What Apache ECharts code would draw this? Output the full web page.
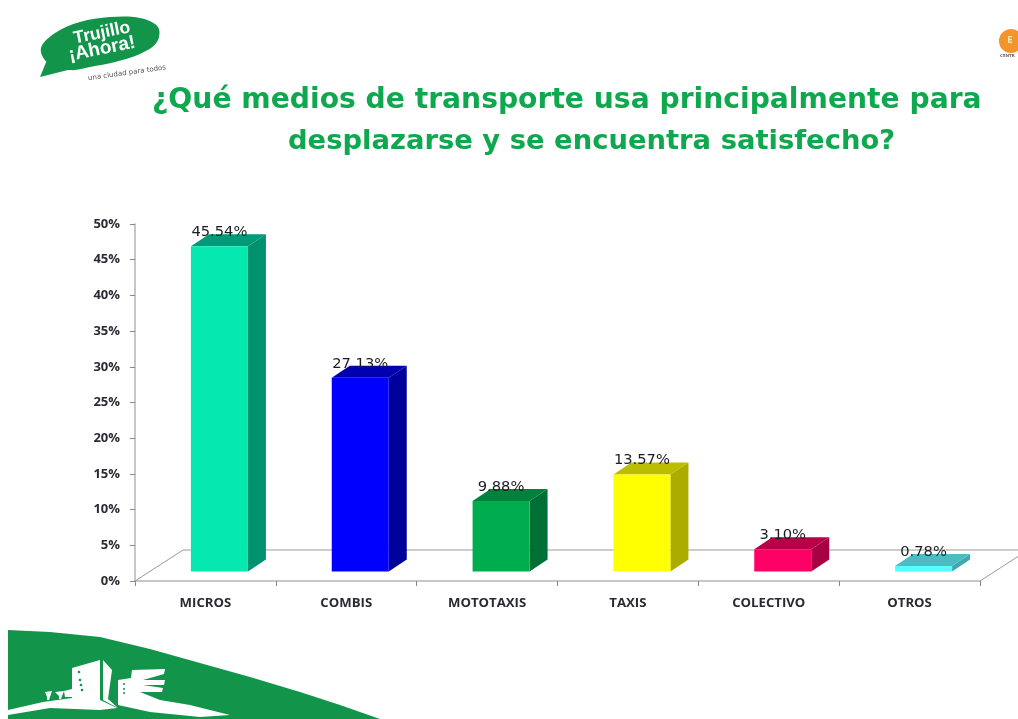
<!DOCTYPE html>
<html><head><meta charset="utf-8">
<style>html,body{margin:0;padding:0;background:#fff}#c{width:1018px;height:719px}</style>
<script src="https://cdn.jsdelivr.net/npm/echarts@6/dist/echarts.min.js"></script>
</head><body><div id="c"></div>
<script>
const categories = ['MICROS','COMBIS','MOTOTAXIS','TAXIS','COLECTIVO','OTROS'];
const values = [45.54,27.13,9.88,13.57,3.10,0.78];
const valueLabels = ['45.54%','27.13%','9.88%','13.57%','3.10%','0.78%'];
const frontColors = ['#05E8B0','#0000FF','#00AD4E','#FFFF00','#FF0066','#55FFFF'];
const sideColors = ['#00926F','#00009B','#006F35','#ABAB00','#A80044','#3FA9B0'];
const topColors = ['#009A78','#0000B0','#00823C','#BDBD00','#B80048','#4CBCC4'];
const titleLines = ['¿Qué medios de transporte usa principalmente para','desplazarse y se encuentra satisfecho?'];
const GREEN = '#0FA84E', LOGO = '#12954A';
const DEPTH_X = 18, DEPTH_Y = 12, SHIFT_X = 14, SHIFT_Y = 9.5, BAR_W = 57;

function renderBar(params, api){
  const i = api.value(0), p = api.coord([i, api.value(1)]), base = api.coord([i, 0]);
  const l = p[0] + SHIFT_X - BAR_W/2, r = l + BAR_W, t = p[1] - SHIFT_Y, b = base[1] - SHIFT_Y;
  const poly = (points, fill) => ({type:'polygon', shape:{points}, style:{fill}});
  return {type:'group', children:[
    poly([[r,b],[r+DEPTH_X,b-DEPTH_Y],[r+DEPTH_X,t-DEPTH_Y],[r,t]], sideColors[i]),
    poly([[l,t],[r,t],[r+DEPTH_X,t-DEPTH_Y],[l+DEPTH_X,t-DEPTH_Y]], topColors[i]),
    poly([[l,t],[r,t],[r,b],[l,b]], frontColors[i]),
    {type:'text', z2:10, style:{text:valueLabels[i], x:(l+r)/2, y:t-14, align:'center', verticalAlign:'middle',
      font:'500 14.7px "DejaVu Sans"', fill:'#1c1c24'}}
  ]};
}
function renderFloor(params, api){
  const half = api.size([1,0])[0]/2;
  const a = api.coord([0,0]), z = api.coord([categories.length-1,0]);
  const x0 = a[0]-half, x1 = z[0]+half, y = a[1], dx = 48, dy = 31;
  return {type:'polyline', shape:{points:[[x0,y],[x0+dx,y-dy],[x1+dx,y-dy],[x1,y]]},
    style:{stroke:'#9a9a9a', lineWidth:1, fill:null}};
}
const chart = echarts.init(document.getElementById('c'), null, {renderer:'canvas'});
chart.setOption({
  animation:false,
  backgroundColor:'#fff',
  title: titleLines.map((t,i)=>({text:t, left:[147,283][i], top:[82,123][i],
    textStyle:{color:GREEN, fontFamily:'DejaVu Sans', fontWeight:'bold', fontSize:[28.2,27.4][i]}})),
  grid:{left:135, right:38, top:224, height:357, containLabel:false},
  xAxis:{type:'category', data:categories, boundaryGap:true,
    axisLine:{lineStyle:{color:'#b5b5b5',width:1.5}},
    axisTick:{show:true,length:5,alignWithLabel:false,lineStyle:{color:'#888'}},
    axisLabel:{margin:16,fontFamily:'Open Sans',fontWeight:'bold',fontSize:13.2,color:'#2a2a35'},
    splitLine:{show:false}},
  yAxis:{type:'value', min:0, max:50, interval:5,
    axisLine:{show:true,lineStyle:{color:'#b5b5b5',width:1.5}},
    axisTick:{show:true,length:5,lineStyle:{color:'#888'}},
    axisLabel:{margin:15,fontFamily:'Open Sans',fontWeight:'bold',fontSize:13,color:'#2a2a35',formatter:'{value}%'},
    splitLine:{show:false}},
  series:[
    {type:'custom', name:'floor', renderItem:renderFloor, data:[[0,0]], silent:true, z:1, clip:false},
    {type:'custom', name:'bars', renderItem:renderBar, z:2, clip:false,
      encode:{x:0,y:1}, data:values.map((v,i)=>[i,v])}
  ],
  graphic:[
    // top-left logo
    {type:'polygon', shape:{smooth:0.35, points:[[47,62],[41,48],[55,33],[80,22],[110,17],[140,18],[158,27],[157,42],[140,54],[115,62],[90,67],[70,70]]}, style:{fill:LOGO}},
    {type:'polygon', shape:{points:[[47,60],[40,77],[72,69]]}, style:{fill:LOGO}},
    {type:'text', rotation:0.2, x:102, y:33, style:{text:'Trujillo', x:0,y:0, align:'center',verticalAlign:'middle', font:'bold 17.5px "Liberation Sans"', fill:'#fff'}},
    {type:'text', rotation:0.2, x:102, y:49, style:{text:'¡Ahora!', x:0,y:0, align:'center',verticalAlign:'middle', font:'bold 19px "Liberation Sans"', fill:'#fff'}},
    {type:'text', rotation:0.14, x:127, y:73, style:{text:'una ciudad para todos', x:0,y:0, align:'center',verticalAlign:'middle', font:'7px "DejaVu Sans"', fill:'#555'}},
    // top-right logo
    {type:'circle', shape:{cx:1011,cy:41,r:12}, style:{fill:'#F0962A'}},
    {type:'text', style:{text:'E', x:1010,y:41, align:'center',verticalAlign:'middle', font:'bold 8px "DejaVu Sans"', fill:'#FBE3B8'}},
    {type:'text', style:{text:'CENTR', x:1000,y:56, verticalAlign:'middle', font:'bold 4px "DejaVu Sans"', fill:'#666'}},
    // bottom banner
    {type:'polygon', shape:{points:[[8,630],[50,632],[100,637],[150,649],[200,663],[250,677],[300,692],[340,705],[380,719],[8,719]]}, style:{fill:LOGO}},
    // hill with left building
    {type:'polygon', shape:{points:[[8,710],[43,702],[72,698],[72,668],[100,660],[100,700],[117,708],[100,710],[50,708],[8,715]]}, style:{fill:'#fff'}},
    // curved wing
    {type:'polygon', shape:{points:[[103,660],[112,670],[108,699],[118,708],[103,700]]}, style:{fill:'#fff'}},
    // right building with fins and sweeping base
    {type:'polygon', shape:{points:[[118,680],[131,678],[132,670],[165,669],[164,674],[143,680],[165,680],[164,685],[143,685],[163,688],[162,692],[140,692],[160,700],[190,705],[230,715],[200,717],[150,712],[118,705]]}, style:{fill:'#fff'}},
    // trees
    {type:'polygon', shape:{points:[[45,692],[52,691],[50,697],[49,700],[47,700],[47,697]]}, style:{fill:'#fff'}},
    {type:'polygon', shape:{points:[[55,692],[64,691],[62,696],[61,699],[59,699],[59,696]]}, style:{fill:'#fff'}},
    {type:'polygon', shape:{points:[[64,691],[72,689],[72,697],[65,697]]}, style:{fill:'#fff'}},
    {type:'circle', shape:{cx:79,cy:672,r:1.3}, style:{fill:LOGO}},
    {type:'circle', shape:{cx:80,cy:680,r:1.3}, style:{fill:LOGO}},
    {type:'circle', shape:{cx:81,cy:685,r:1.3}, style:{fill:LOGO}},
    {type:'circle', shape:{cx:82,cy:690,r:1.3}, style:{fill:LOGO}},
    {type:'circle', shape:{cx:124,cy:684,r:1}, style:{fill:LOGO}},
    {type:'circle', shape:{cx:124,cy:689,r:1}, style:{fill:LOGO}},
    {type:'circle', shape:{cx:124,cy:693,r:1}, style:{fill:LOGO}}
  ]
});
</script></body></html>
